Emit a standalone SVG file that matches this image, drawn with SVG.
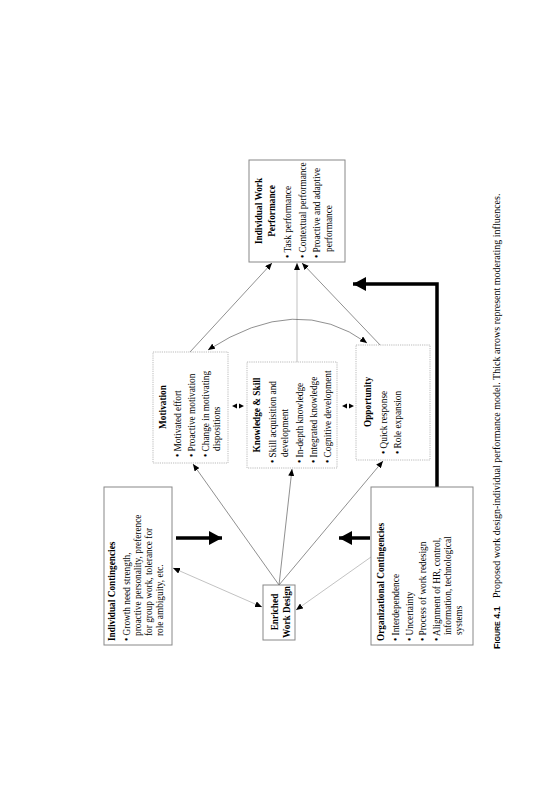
<svg xmlns="http://www.w3.org/2000/svg" width="551" height="800" viewBox="0 0 551 800">
<style>
.t{font-family:"Liberation Serif","Times New Roman",serif;font-size:9.3px;fill:#000}
.b{font-weight:bold}
.m{text-anchor:middle}
.solid{fill:#fff;stroke:#888;stroke-width:1}
.dot{fill:#fff;stroke:#aaa;stroke-width:0.8;stroke-dasharray:1.2 1}
.ln{fill:none;stroke:#444;stroke-width:0.6}
.lg{fill:none;stroke:#999;stroke-width:0.6}
.thick{fill:none;stroke:#000;stroke-width:3.5}
</style>
<defs>
<marker id="ah" markerUnits="userSpaceOnUse" markerWidth="8" markerHeight="6" refX="7" refY="3" orient="auto-start-reverse"><path d="M0,0 L7,3 L0,6 z" fill="#000"/></marker>
<marker id="th" markerUnits="userSpaceOnUse" markerWidth="14" markerHeight="14" refX="13" refY="7" orient="auto"><path d="M0,0 L13,7 L0,14 z" fill="#000"/></marker>
</defs>
<rect width="551" height="800" fill="#fff"/>

<g id="connectors">
<line class="ln" x1="279" y1="585" x2="193" y2="464" marker-end="url(#ah)"/>
<line class="ln" x1="279" y1="585" x2="292" y2="469" marker-end="url(#ah)"/>
<line class="ln" x1="279" y1="585" x2="383" y2="461" marker-end="url(#ah)"/>
<line class="ln" x1="190" y1="352" x2="272" y2="263" marker-end="url(#ah)"/>
<line class="lg" x1="297" y1="362" x2="297" y2="263" marker-end="url(#ah)"/>
<line class="ln" x1="382" y1="347" x2="302" y2="263" marker-end="url(#ah)"/>
<path class="ln" d="M208,350 Q297,292 367,343" marker-start="url(#ah)" marker-end="url(#ah)"/>
<path d="M232,406 L237,403.5 L237,408.5 z M244,406 L239,403.5 L239,408.5 z" fill="#000"/>
<path d="M342,406 L347,403.5 L347,408.5 z M354,406 L349,403.5 L349,408.5 z" fill="#000"/>
<line class="lg" x1="262" y1="607" x2="173" y2="568" marker-start="url(#ah)" marker-end="url(#ah)"/>
<line class="lg" x1="371" y1="557" x2="296" y2="610" marker-end="url(#ah)"/>
<line class="thick" x1="176" y1="538" x2="222" y2="538" marker-end="url(#th)"/>
<line class="thick" x1="370" y1="538" x2="339" y2="538" marker-end="url(#th)"/>
<path class="thick" d="M437,487 V284 H353" marker-end="url(#th)"/>
</g>

<g id="individual-contingencies">
<rect class="solid" x="104" y="487" width="68" height="158"/>
<text class="t b" transform="translate(115,641) rotate(-90)">Individual Contingencies</text>
<text class="t" transform="translate(130,641) rotate(-90)">• Growth need strength,</text>
<text class="t" transform="translate(141,636) rotate(-90)">proactive personality, preference</text>
<text class="t" transform="translate(152,636) rotate(-90)">for group work, tolerance for</text>
<text class="t" transform="translate(163,636) rotate(-90)">role ambiguity, etc.</text>
</g>

<g id="enriched-work-design">
<rect class="solid" x="263" y="585" width="32" height="55"/>
<text class="t b m" transform="translate(278,612) rotate(-90)">Enriched</text>
<text class="t b m" transform="translate(290,612) rotate(-90)">Work Design</text>
</g>

<g id="organizational-contingencies">
<rect class="solid" x="371" y="487" width="102" height="158"/>
<text class="t b" transform="translate(384,641) rotate(-90)">Organizational Contingencies</text>
<text class="t" transform="translate(399,641) rotate(-90)">• Interdependence</text>
<text class="t" transform="translate(413,641) rotate(-90)">• Uncertainty</text>
<text class="t" transform="translate(426,641) rotate(-90)">• Process of work redesign</text>
<text class="t" transform="translate(440,641) rotate(-90)">• Alignment of HR, control,</text>
<text class="t" transform="translate(451,635) rotate(-90)">information, technological</text>
<text class="t" transform="translate(462,635) rotate(-90)">systems</text>
</g>

<g id="motivation">
<rect class="dot" x="153" y="352" width="75" height="111"/>
<text class="t b m" transform="translate(166,407) rotate(-90)">Motivation</text>
<text class="t" transform="translate(181,457) rotate(-90)">• Motivated effort</text>
<text class="t" transform="translate(195,457) rotate(-90)">• Proactive motivation</text>
<text class="t" transform="translate(209,457) rotate(-90)">• Change in motivating</text>
<text class="t" transform="translate(220,451) rotate(-90)">dispositions</text>
</g>

<g id="knowledge-skill">
<rect class="dot" x="247" y="362" width="90" height="106"/>
<text class="t b m" transform="translate(260,415) rotate(-90)">Knowledge &amp; Skill</text>
<text class="t" transform="translate(276,463) rotate(-90)">• Skill acquisition and</text>
<text class="t" transform="translate(288,457) rotate(-90)">development</text>
<text class="t" transform="translate(303,463) rotate(-90)">• In-depth knowledge</text>
<text class="t" transform="translate(317,463) rotate(-90)">• Integrated knowledge</text>
<text class="t" transform="translate(331,463) rotate(-90)">• Cognitive development</text>
</g>

<g id="opportunity">
<rect class="dot" x="356" y="345" width="74" height="115"/>
<text class="t b m" transform="translate(371,402) rotate(-90)">Opportunity</text>
<text class="t" transform="translate(387,454) rotate(-90)">• Quick response</text>
<text class="t" transform="translate(401,454) rotate(-90)">• Role expansion</text>
</g>

<g id="individual-work-performance">
<rect class="solid" x="249" y="160" width="96" height="102"/>
<text class="t b m" transform="translate(262,211) rotate(-90)">Individual Work</text>
<text class="t b m" transform="translate(275,211) rotate(-90)">Performance</text>
<text class="t" transform="translate(291,258) rotate(-90)">• Task performance</text>
<text class="t" transform="translate(306,258) rotate(-90)">• Contextual performance</text>
<text class="t" transform="translate(320,258) rotate(-90)">• Proactive and adaptive</text>
<text class="t" transform="translate(332,252) rotate(-90)">performance</text>
</g>

<g id="caption">
<text transform="translate(500,649) rotate(-90)" style="font-family:'Liberation Sans Narrow','Liberation Sans',sans-serif;font-weight:bold;font-size:9px">F<tspan font-size="7">IGURE</tspan> 4.1</text>
<text class="t" style="font-size:10px" transform="translate(500,598) rotate(-90)">Proposed work design-individual performance model. Thick arrows represent moderating influences.</text>
</g>
</svg>
